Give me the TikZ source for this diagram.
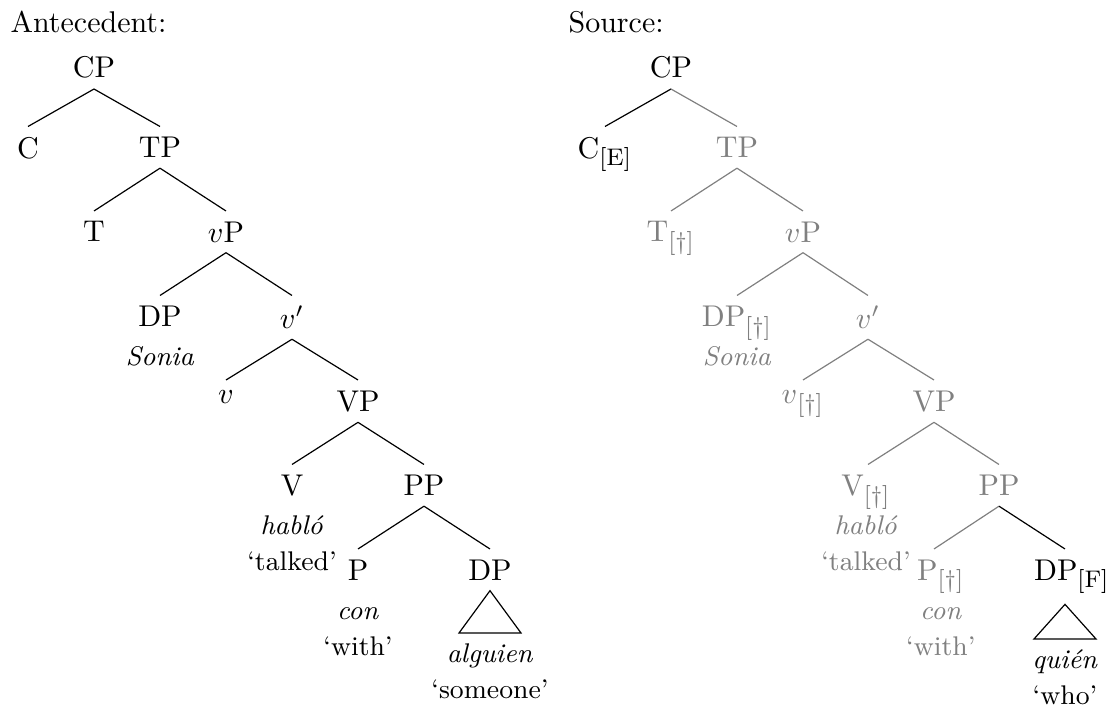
\documentclass[tikz,border=0pt]{standalone}
\usepackage{fontspec}
\tikzset{
  cat/.style={
    % Hang the node from its top,
    anchor=north,
    % and stack extra lines under it
    align=center},
  gone/.style={
    % Material left unpronounced: grey
    gray},
  heading/.style={
    anchor=base west,inner sep=0pt}}
\newcommand{\feat}[1]{$_{\mbox{\footnotesize[#1]}}$}
\newcommand{\glossline}[1]{{\small#1}}

\begin{document}
\begin{tikzpicture}[x=0.3333pt,y=-0.3333pt]
	\useasboundingbox (0,0) rectangle (1114,708);
	\node[heading] (ant) at (10,33) {Antecedent:};
	\node[heading] (src) at (568,33) {Source:};
	% The antecedent tree
	\node[cat] (aCP) at (94,46) {CP};
	\node[cat] (aC) at (28,126.5) {C};
	\node[cat] (aTP) at (160,126.5) {TP};
	\node[cat] (aT) at (94,211) {T};
	\node[cat] (avP) at (226,211) {$v$P};
	\node[cat] (aDP) at (160,295.5) {DP\\[1pt]\glossline{\textit{Sonia}}};
	\node[cat] (avbar) at (292,295.5) {$v'$};
	\node[cat] (av) at (226,380) {$v$};
	\node[cat] (aVP) at (358,380) {VP};
	\node[cat] (aV) at (292,464.5) {V\\[1pt]\glossline{\textit{habló}}\\\glossline{`talked'}};
	\node[cat] (aPP) at (424,464.5) {PP};
	\node[cat] (aP) at (358,549) {P\\[1pt]\glossline{\textit{con}}\\\glossline{`with'}};
	\node[cat] (aDPo) at (490,549) {DP};
	\node[cat] (aword) at (490,633) {\glossline{\textit{alguien}}\\\glossline{`someone'}};
	% Lines out of aCP
	\draw (aCP.south) -- (aC.north);
	\draw (aCP.south) -- (aTP.north);
	% Lines out of aTP
	\draw (aTP.south) -- (aT.north);
	\draw (aTP.south) -- (avP.north);
	% Lines out of avP
	\draw (avP.south) -- (aDP.north);
	\draw (avP.south) -- (avbar.north);
	% Lines out of avbar
	\draw (avbar.south) -- (av.north);
	\draw (avbar.south) -- (aVP.north);
	% Lines out of aVP
	\draw (aVP.south) -- (aV.north);
	\draw (aVP.south) -- (aPP.north);
	% Lines out of aPP
	\draw (aPP.south) -- (aP.north);
	\draw (aPP.south) -- (aDPo.north);
	% Roof over alguien
	\draw (aDPo.south) -- ([shift={(-31,0)}]aword.north) -- ([shift={(31,0)}]aword.north) -- cycle;
	% The source tree
	\node[cat] (sCP) at (671,46) {CP};
	\node[cat] (sC) at (605,126.5) {C\feat{E}};
	\node[cat,gone] (sTP) at (737,126.5) {TP};
	\node[cat,gone] (sT) at (671,211) {T\feat{\dag}};
	\node[cat,gone] (svP) at (803,211) {$v$P};
	\node[cat,gone] (sDP) at (737,295.5) {DP\feat{\dag}\\[1pt]\glossline{\textit{Sonia}}};
	\node[cat,gone] (svbar) at (868,295.5) {$v'$};
	\node[cat,gone] (sv) at (803,380) {$v$\feat{\dag}};
	\node[cat,gone] (sVP) at (934,380) {VP};
	\node[cat,gone] (sV) at (866,464.5) {V\feat{\dag}\\[1pt]\glossline{\textit{habló}}\\\glossline{`talked'}};
	\node[cat,gone] (sPP) at (999,464.5) {PP};
	\node[cat,gone,xshift=2.3pt] (sP) at (934,549) {P\feat{\dag}\\[1pt]\glossline{\textit{con}}\\\glossline{`with'}};
	\node[cat,xshift=2.3pt] (sDPo) at (1065,549) {DP\feat{F}};
	\node[cat] (sword) at (1065,639) {\glossline{\textit{quién}}\\\glossline{`who'}};
	% Lines out of sCP
	\draw (sCP.south) -- (sC.north);
	\draw[gone] (sCP.south) -- (sTP.north);
	% Lines out of sTP
	\draw[gone] (sTP.south) -- (sT.north);
	\draw[gone] (sTP.south) -- (svP.north);
	% Lines out of svP
	\draw[gone] (svP.south) -- (sDP.north);
	\draw[gone] (svP.south) -- (svbar.north);
	% Lines out of svbar
	\draw[gone] (svbar.south) -- (sv.north);
	\draw[gone] (svbar.south) -- (sVP.north);
	% Lines out of sVP
	\draw[gone] (sVP.south) -- ([xshift=2pt/3]sV.north);
	\draw[gone] (sVP.south) -- (sPP.north);
	% Lines out of sPP
	\draw[gone] (sPP.south) -- ([xshift=-2.3pt]sP.north);
	\draw (sPP.south) -- ([xshift=-2.3pt]sDPo.north);
	% Roof over quien
	\draw ([xshift=-2.3pt]sDPo.south) -- ([shift={(-31,0)}]sword.north) -- ([shift={(31,0)}]sword.north) -- cycle;
\end{tikzpicture}
\end{document}
